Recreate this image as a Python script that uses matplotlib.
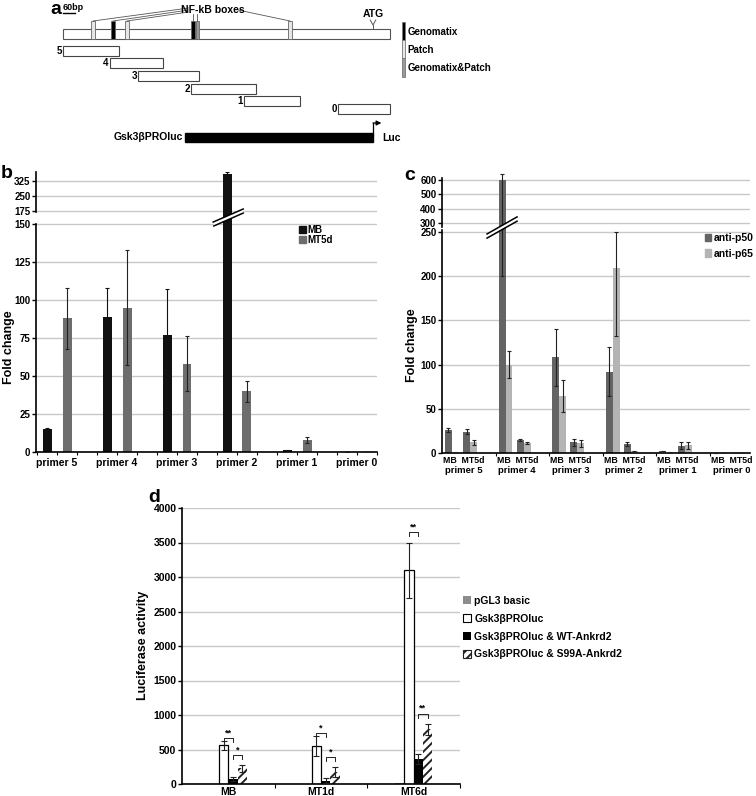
import numpy as np
import matplotlib
matplotlib.use("Agg")
import matplotlib.pyplot as plt
from matplotlib.patches import Rectangle, Polygon, Patch

plt.rcParams['font.family'] = ['Liberation Sans', 'DejaVu Sans']
plt.rcParams['font.weight'] = 'bold'
plt.rcParams['hatch.linewidth'] = 1.4

W, H = 756, 796

# ---- a: promoter schematic, positions in bp
promoter_len = 1635
scale_bp = 60
box_start = [140, 240, 310, 640, 664, 1125]
box_width = [20, 20, 20, 20, 15, 20]
box_kind = ['Patch', 'Genomatix', 'Patch', 'Genomatix', 'Genomatix&Patch', 'Patch']
atg_bp = 1550
frag_names = ['5', '4', '3', '2', '1', '0']
frag_start = [0, 235, 375, 640, 905, 1375]
frag_end = [280, 500, 680, 965, 1185, 1635]
construct = (610, 1550)

# ---- b: ChIP, fold change
primers = ['primer 5', 'primer 4', 'primer 3', 'primer 2', 'primer 1', 'primer 0']
b_mb = [15, 89, 77, 358, 1, 0]
b_mb_err = [1, 19, 30, 10, 0.3, 0]
b_mt5d = [88, 95, 58, 40, 8, 0]
b_mt5d_err = [20, 38, 18, 7, 2, 0]

# ---- c: anti-p50 / anti-p65 for MB and MT5d
c_p50_mb = [26, 600, 108, 92, 2, 0]
c_p50_mb_lo = [2.5, 400, 32, 28, 0.5, 0]
c_p50_mb_hi = [2.5, 45, 32, 28, 0.5, 0]
c_p65_mb = [0.5, 100, 64, 209, 0.5, 0]
c_p65_mb_lo = [0.2, 15, 18, 77, 0.2, 0]
c_p65_mb_hi = [0.2, 15, 18, 42, 0.2, 0]
c_p50_mt = [24, 15, 12, 10, 8, 0]
c_p50_mt_err = [3, 1, 4, 2, 4, 0]
c_p65_mt = [12, 11, 11, 2, 9, 0]
c_p65_mt_err = [3, 1, 4, 0.5, 4, 0]

# ---- d: luciferase
d_groups = ['MB', 'MT1d', 'MT6d']
d_labels = ['pGL3 basic', 'Gsk3βPROluc', 'Gsk3βPROluc & WT-Ankrd2', 'Gsk3βPROluc & S99A-Ankrd2']
d_pgl3 = [5, 5, 10]
d_gsk = [560, 550, 3100]
d_gsk_err = [60, 140, 400]
d_wt = [70, 50, 360]
d_wt_err = [30, 40, 70]
d_s99a = [230, 170, 790]
d_s99a_err = [50, 70, 80]
# (group, series a, series b, bracket height, stars)
d_sig = [(0, 1, 2, 670, '**'), (0, 2, 3, 420, '*'),
         (1, 1, 2, 740, '*'), (1, 2, 3, 390, '*'),
         (2, 1, 2, 3650, '**'), (2, 2, 3, 1020, '**')]


def px_box(x0, y0, x1, y1):
    return [x0 / W, 1 - y1 / H, (x1 - x0) / W, (y1 - y0) / H]


def fig_xy(x, y):
    return x / W, 1 - y / H


fig = plt.figure(figsize=(W / 100, H / 100), dpi=100)

# ================= a =================
ax_a = fig.add_axes([0, 1 - 160 / H, 1, 160 / H])
ax_a.set_xlim(-63 * 5, (W - 63) * 5)
ax_a.set_ylim(160, 0)
ax_a.axis('off')
kind_col = {'Genomatix': 'black', 'Patch': '#e6e6e6', 'Genomatix&Patch': '#9a9a9a'}

ax_a.add_patch(Rectangle((0, 29), promoter_len, 10, fc='white', ec='#555555', lw=0.8))
for s, w, k in zip(box_start, box_width, box_kind):
    ax_a.add_patch(Rectangle((s, 21), w, 18, fc=kind_col[k], ec='#666666', lw=0.6))
centers = [s + w / 2 for s, w in zip(box_start, box_width)]
ax_a.text(750, 10, 'NF-kB boxes', ha='center', va='center', fontsize=7.5)
for i, c in enumerate([centers[0], centers[1], centers[2]]):
    ax_a.plot([628, c], [8 + 2 * i, 21], color='#555555', lw=0.6)
ax_a.plot([centers[3], centers[3]], [14, 21], color='#555555', lw=0.6)
ax_a.plot([centers[4], centers[4]], [14, 21], color='#555555', lw=0.6)
ax_a.plot([875, centers[5]], [10, 21], color='#555555', lw=0.6)
ax_a.text(atg_bp, 14, 'ATG', ha='center', va='center', fontsize=7.5)
ax_a.plot([atg_bp - 14, atg_bp, atg_bp + 14], [20, 25, 20], color='#555555', lw=0.7)
ax_a.plot([atg_bp, atg_bp], [25, 29], color='#555555', lw=0.7)
ax_a.text(0, 7, '60bp', ha='left', va='center', fontsize=6.5)
ax_a.plot([0, scale_bp], [13, 13], color='black', lw=1)

frag_top = [46, 58, 71, 84, 96, 104]
for n, s, e, t in zip(frag_names, frag_start, frag_end, frag_top):
    ax_a.add_patch(Rectangle((s, t), e - s, 9.5, fc='white', ec='#444444', lw=0.8))
    ax_a.text(s - 6, t + 5, n, ha='right', va='center', fontsize=7)

ax_a.add_patch(Rectangle((construct[0], 133), construct[1] - construct[0], 9, fc='black', ec='black'))
ax_a.text(construct[0] - 8, 137.5, 'Gsk3βPROluc', ha='right', va='center', fontsize=7.5)
ax_a.plot([construct[1], construct[1]], [133, 123], color='black', lw=0.9)
ax_a.annotate('', xy=(construct[1] + 42, 123), xytext=(construct[1], 123),
              arrowprops=dict(arrowstyle='-|>', lw=0.9, color='black', mutation_scale=7,
                              shrinkA=0, shrinkB=0))
ax_a.text(construct[1] + 45, 138, 'Luc', ha='left', va='center', fontsize=7.5)

for (k, y0, y1, ty) in [('Genomatix', 22, 40, 32), ('Patch', 40, 58, 50),
                        ('Genomatix&Patch', 58, 77, 68)]:
    ax_a.add_patch(Rectangle((1695, y0), 16, y1 - y0, fc=kind_col[k], ec='#777777', lw=0.6))
    ax_a.text(1722, ty, k, ha='left', va='center', fontsize=7)

# ================= b =================
ax_b = fig.add_axes(px_box(36, 172, 377, 452))
b_knots, b_pix = [0, 150, 175, 400], [0, 228, 241, 286]
ax_b.set_yscale('function', functions=(lambda v: np.interp(v, b_knots, b_pix),
                                       lambda t: np.interp(t, b_pix, b_knots)))
xb = np.arange(len(primers))
ax_b.bar(xb - 1 / 6, b_mb, 0.15, color='#111111', zorder=2, label='MB')
ax_b.bar(xb + 1 / 6, b_mt5d, 0.15, color='#6d6d6d', zorder=2, label='MT5d')
ax_b.errorbar(xb - 1 / 6, b_mb, yerr=b_mb_err, fmt='none', ecolor='#111111',
              elinewidth=0.8, capsize=1.5, capthick=0.8, zorder=3)
ax_b.errorbar(xb + 1 / 6, b_mt5d, yerr=b_mt5d_err, fmt='none', ecolor='#222222',
              elinewidth=0.8, capsize=1.5, capthick=0.8, zorder=3)
ax_b.set_xlim(-0.35, 5.333)
ax_b.set_ylim(0, 370)
ax_b.set_yticks([0, 25, 50, 75, 100, 125, 150, 175, 250, 325])
ax_b.yaxis.grid(True, color='#c8c8c8', lw=1)
ax_b.set_axisbelow(True)
for sp in ['top', 'right', 'left']:
    ax_b.spines[sp].set_visible(False)
ax_b.spines['bottom'].set_linewidth(1.2)
ax_b.plot([0, 0], [0, 150], color='black', lw=1.2, transform=ax_b.get_yaxis_transform(), clip_on=False)
ax_b.plot([0, 0], [173, 370], color='black', lw=1.2, transform=ax_b.get_yaxis_transform(), clip_on=False)
ax_b.tick_params(axis='y', length=3, width=1, labelsize=7, pad=1)
ax_b.set_xticks(xb)
ax_b.set_xticklabels(primers)
ax_b.set_xticks(np.arange(-1, 17) / 3, minor=True)
ax_b.tick_params(axis='x', which='both', length=2.5, width=0.8, labelsize=7.5, pad=2)
xc = 3 - 1 / 6
ax_b.add_patch(Polygon([(xc - 0.23, 153.8), (xc + 0.27, 185), (xc + 0.27, 171), (xc - 0.22, 148.7)],
                       closed=True, fc='white', ec='none', zorder=5, clip_on=False))
ax_b.plot([xc - 0.23, xc + 0.27], [153.8, 185], color='black', lw=1.1, zorder=6, clip_on=False)
ax_b.plot([xc - 0.22, xc + 0.27], [148.7, 171], color='black', lw=1.1, zorder=6, clip_on=False)
ax_b.legend(handles=[Patch(color='#111111', label='MB'), Patch(color='#6d6d6d', label='MT5d')],
            loc='upper left', bbox_to_anchor=fig_xy(299, 225), bbox_transform=fig.transFigure,
            frameon=False, fontsize=7, handlelength=0.7, handleheight=0.7,
            handletextpad=0.2, labelspacing=-0.05, borderpad=0, borderaxespad=0)

# ================= c =================
ax_c = fig.add_axes(px_box(442, 178, 750, 453))
c_knots, c_pix = [0, 250, 300, 700], [0, 221, 230, 287.2]
ax_c.set_yscale('function', functions=(lambda v: np.interp(v, c_knots, c_pix),
                                       lambda t: np.interp(t, c_pix, c_knots)))
xg = np.arange(len(primers))
bw = 0.13
c_dark, c_light = '#646464', '#b4b4b4'
ax_c.bar(xg + 0.12, c_p50_mb, bw, color=c_dark, zorder=2)
ax_c.bar(xg + 0.25, c_p65_mb, bw, color=c_light, zorder=2)
ax_c.bar(xg + 0.46, c_p50_mt, bw, color=c_dark, zorder=2)
ax_c.bar(xg + 0.59, c_p65_mt, bw, color=c_light, zorder=2)
ekw = dict(fmt='none', ecolor='#222222', elinewidth=0.8, capsize=1.5, capthick=0.8, zorder=3)
ax_c.errorbar(xg + 0.12, c_p50_mb, yerr=[c_p50_mb_lo, c_p50_mb_hi], clip_on=False, **ekw)
ax_c.errorbar(xg + 0.25, c_p65_mb, yerr=[c_p65_mb_lo, c_p65_mb_hi], **ekw)
ax_c.errorbar(xg + 0.46, c_p50_mt, yerr=c_p50_mt_err, **ekw)
ax_c.errorbar(xg + 0.59, c_p65_mt, yerr=c_p65_mt_err, **ekw)
ax_c.set_xlim(0, 5.746)
ax_c.set_ylim(0, 614)
ax_c.set_yticks([0, 50, 100, 150, 200, 250, 300, 400, 500, 600])
ax_c.yaxis.grid(True, color='#c8c8c8', lw=1)
ax_c.set_axisbelow(True)
for sp in ['top', 'right', 'left']:
    ax_c.spines[sp].set_visible(False)
ax_c.spines['bottom'].set_linewidth(1.2)
ax_c.plot([0, 0], [0, 261], color='black', lw=1.2, transform=ax_c.get_yaxis_transform(), clip_on=False)
ax_c.plot([0, 0], [276, 614], color='black', lw=1.2, transform=ax_c.get_yaxis_transform(), clip_on=False)
ax_c.tick_params(axis='y', length=3, width=1, labelsize=7, pad=1)
ax_c.set_xticks(np.arange(1, 6))
ax_c.set_xticklabels([])
ax_c.tick_params(axis='x', length=2.5, width=0.8)
for i, p in enumerate(primers):
    ax_c.text(i + 0.02, -0.026, 'MB  MT5d', transform=ax_c.get_xaxis_transform(),
              ha='left', va='center', fontsize=6.3)
    ax_c.text(i + 0.40, -0.064, p, transform=ax_c.get_xaxis_transform(),
              ha='center', va='center', fontsize=6.8)
ax_c.add_patch(Polygon([(0.84, 247.7), (1.40, 342), (1.40, 314), (0.84, 244)],
                       closed=True, fc='white', ec='none', zorder=5, clip_on=False))
ax_c.plot([0.84, 1.40], [247.7, 342], color='black', lw=1.1, zorder=6, clip_on=False)
ax_c.plot([0.84, 1.40], [243, 312], color='black', lw=1.1, zorder=6, clip_on=False)
ax_c.legend(handles=[Patch(color=c_dark, label='anti-p50'), Patch(color=c_light, label='anti-p65')],
            loc='upper left', bbox_to_anchor=fig_xy(705, 233), bbox_transform=fig.transFigure,
            frameon=False, fontsize=7.5, handlelength=0.6, handleheight=0.7,
            handletextpad=0.2, labelspacing=0.55, borderpad=0, borderaxespad=0)

# ================= d =================
ax_d = fig.add_axes(px_box(182, 508, 460, 784))
xd = np.arange(len(d_groups)) + 0.5
dw = 0.1
offs = [-0.15, -0.05, 0.05, 0.15]
ax_d.bar(xd + offs[0], d_pgl3, dw, color='#8c8c8c', zorder=2)
ax_d.bar(xd + offs[1], d_gsk, dw, color='white', edgecolor='black', lw=0.9, zorder=2)
ax_d.bar(xd + offs[2], d_wt, dw, color='black', zorder=2)
ax_d.bar(xd + offs[3], d_s99a, dw, color='white', edgecolor='#222222', hatch='////', lw=0, zorder=2)
ekw = dict(fmt='none', ecolor='#222222', elinewidth=0.8, capsize=2, capthick=0.8, zorder=3)
ax_d.errorbar(xd + offs[1], d_gsk, yerr=d_gsk_err, **ekw)
ax_d.errorbar(xd + offs[2], d_wt, yerr=d_wt_err, **ekw)
ax_d.errorbar(xd + offs[3], d_s99a, yerr=d_s99a_err, **ekw)
for g, a, b, y, s in d_sig:
    x0, x1 = xd[g] + offs[a], xd[g] + offs[b]
    ax_d.plot([x0, x0, x1, x1], [y - 60, y, y, y - 60], color='#222222', lw=0.7, zorder=4)
    ax_d.text((x0 + x1) / 2, y + 10, s, ha='center', va='bottom', fontsize=6.5, zorder=4)
ax_d.set_xlim(0, 3)
ax_d.set_ylim(0, 4000)
ax_d.set_yticks(np.arange(0, 4001, 500))
ax_d.yaxis.grid(True, color='#c8c8c8', lw=1)
ax_d.set_axisbelow(True)
for sp in ['top', 'right']:
    ax_d.spines[sp].set_visible(False)
ax_d.spines['left'].set_linewidth(1.2)
ax_d.spines['bottom'].set_linewidth(1.2)
ax_d.tick_params(axis='y', length=3, width=1, labelsize=7.5, pad=1)
ax_d.set_xticks(xd)
ax_d.set_xticklabels(d_groups)
ax_d.set_xticks([1, 2, 3], minor=True)
ax_d.tick_params(axis='x', which='major', length=0, labelsize=7.5, pad=2)
ax_d.tick_params(axis='x', which='minor', length=3, width=0.8)
ax_d.legend(handles=[Patch(fc='#8c8c8c', label=d_labels[0]),
                     Patch(fc='white', ec='black', lw=0.8, label=d_labels[1]),
                     Patch(fc='black', label=d_labels[2]),
                     Patch(fc='white', ec='#222222', hatch='////', lw=0.8, label=d_labels[3])],
            loc='upper left', bbox_to_anchor=fig_xy(463, 596), bbox_transform=fig.transFigure,
            frameon=False, fontsize=7.5, handlelength=0.8, handleheight=0.8,
            handletextpad=0.3, labelspacing=0.75, borderpad=0, borderaxespad=0)

# axis titles and panel letters
fig.text(*fig_xy(9, 347), 'Fold change', rotation=90, ha='center', va='center', fontsize=9)
fig.text(*fig_xy(412, 345), 'Fold change', rotation=90, ha='center', va='center', fontsize=9)
fig.text(*fig_xy(143, 645), 'Luciferase activity', rotation=90, ha='center', va='center', fontsize=9)
fig.text(*fig_xy(50, 9), 'a', ha='left', va='center', fontsize=14)
fig.text(*fig_xy(1, 174), 'b', ha='left', va='center', fontsize=14)
fig.text(*fig_xy(404, 176), 'c', ha='left', va='center', fontsize=14)
fig.text(*fig_xy(148, 498), 'd', ha='left', va='center', fontsize=14)

fig.savefig('out.png', dpi=100)
